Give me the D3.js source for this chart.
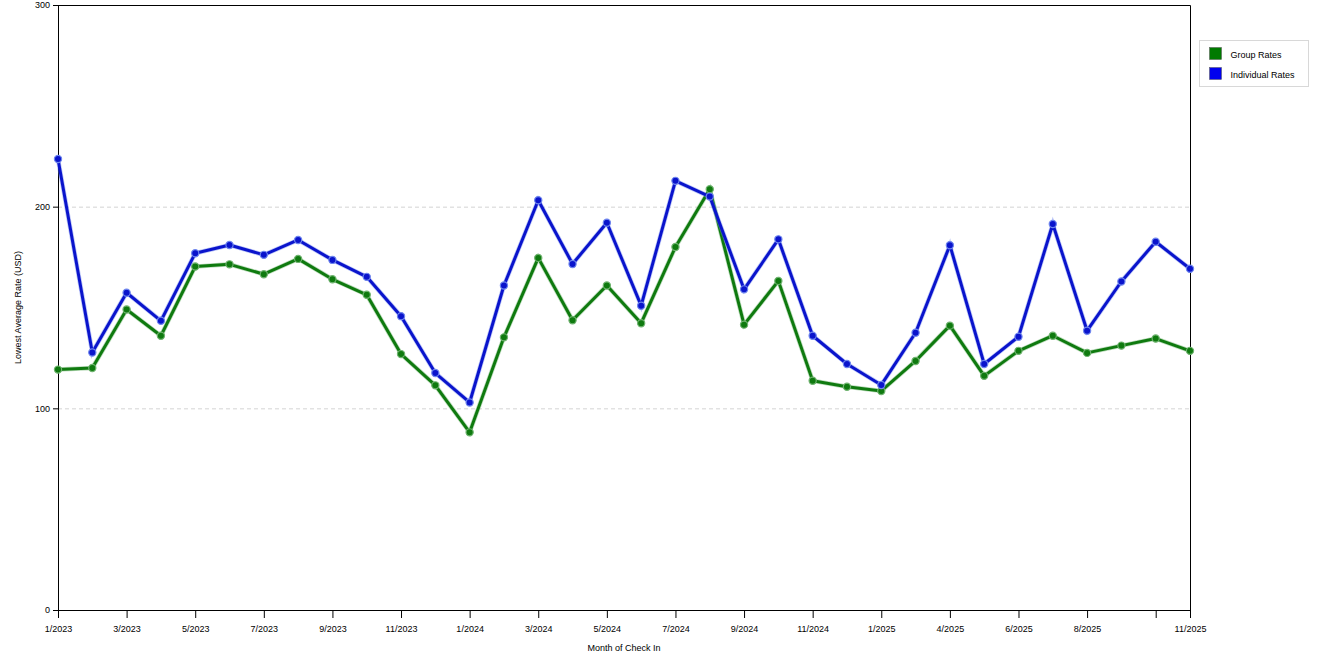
<!DOCTYPE html>
<html>
<head>
<meta charset="utf-8">
<script src="https://cdn.jsdelivr.net/npm/d3@7"></script>
<style>
  body { margin: 0; background: #fff; }
  svg { display: block; font-family: "Liberation Sans", Arial, sans-serif; }
  .axis path, .axis line { stroke: #000; }
  .axis text { font-size: 9px; fill: #000; }
</style>
</head>
<body>
<div id="chart"></div>
<script>
// data
var months = ["1/2023","2/2023","3/2023","4/2023","5/2023","6/2023","7/2023","8/2023","9/2023","10/2023","11/2023","12/2023",
              "1/2024","2/2024","3/2024","4/2024","5/2024","6/2024","7/2024","8/2024","9/2024","10/2024","11/2024","12/2024",
              "1/2025","2/2025","4/2025","5/2025","6/2025","7/2025","8/2025","9/2025","10/2025","11/2025"];
var groupRates = [119.2, 120.0, 149.0, 136.0, 170.3, 171.4, 166.5, 174.1, 164.0, 156.3, 126.9, 111.4,
                  88.1, 135.2, 174.6, 143.7, 160.9, 142.2, 180.0, 208.6, 141.5, 163.2, 113.7, 110.7,
                  108.6, 123.5, 141.0, 116.1, 128.5, 136.0, 127.5, 131.1, 134.6, 128.5];
var individualRates = [223.6, 127.7, 157.3, 143.4, 176.9, 181.0, 176.1, 183.5, 173.6, 165.2, 145.7, 117.5,
                       102.9, 160.9, 203.2, 171.6, 192.0, 150.9, 212.8, 205.0, 159.0, 183.8, 136.0, 122.0,
                       111.6, 137.5, 180.9, 122.0, 135.5, 191.4, 138.5, 162.9, 182.6, 169.2];
var tickMonths = ["1/2023","3/2023","5/2023","7/2023","9/2023","11/2023","1/2024","3/2024","5/2024","7/2024",
                  "9/2024","11/2024","1/2025","4/2025","6/2025","8/2025","10/2025","11/2025"];
var tickLabels = ["1/2023","3/2023","5/2023","7/2023","9/2023","11/2023","1/2024","3/2024","5/2024","7/2024",
                  "9/2024","11/2024","1/2025","4/2025","6/2025","8/2025","","11/2025"];
var yTicks = [0, 100, 200, 300];
var seriesNames = ["Group Rates", "Individual Rates"];

var w = 1320, h = 660;
var pLeft = 58, pRight = 1190, pTop = 5, pBottom = 610;
var lineColors = ["#0f7a0f", "#0a14cc"];
var swatchColors = ["#007a00", "#0000ee"];
var haloColors = ["#6fb36f", "#6f86ee"];

var svg = d3.select("#chart").append("svg")
    .attr("width", w)
    .attr("height", h);

var xScale = d3.scalePoint()
    .domain(months)
    .range([pLeft, pRight]);

var yScale = d3.scaleLinear()
    .domain([0, 300])
    .range([pBottom, pTop]);

// gridlines
svg.append("g")
  .selectAll("line")
  .data([100, 200])
  .join("line")
    .attr("x1", pLeft).attr("x2", pRight)
    .attr("y1", d => yScale(d) + 0.5).attr("y2", d => yScale(d) + 0.5)
    .attr("stroke", "#d4d4d4")
    .attr("stroke-dasharray", "4,3");

// frame (top + right)
svg.append("path")
    .attr("d", "M" + pLeft + "," + (pTop + 0.5) + "H" + (pRight + 0.5) + "V" + pBottom)
    .attr("fill", "none")
    .attr("stroke", "#000");

var yAxis = d3.axisLeft(yScale).tickValues(yTicks).tickSize(5).tickSizeOuter(0);
svg.append("g")
    .attr("class", "axis")
    .attr("transform", "translate(" + pLeft + ",0)")
    .call(yAxis);

var xAxis = d3.axisBottom(xScale)
    .tickValues(tickMonths)
    .tickSize(8)
    .tickSizeOuter(0)
    .tickFormat((d, i) => tickLabels[i]);
svg.append("g")
    .attr("class", "axis")
    .attr("transform", "translate(0," + pBottom + ")")
    .call(xAxis)
    .selectAll("text").attr("dy", "1.2em");

svg.append("text")
    .attr("x", (pLeft + pRight) / 2)
    .attr("y", 651)
    .attr("text-anchor", "middle")
    .attr("font-size", 9)
    .text("Month of Check In");

svg.append("text")
    .attr("transform", "translate(21," + ((pTop + pBottom) / 2) + ") rotate(-90)")
    .attr("text-anchor", "middle")
    .attr("font-size", 9)
    .text("Lowest Average Rate (USD)");

// series
var allSeries = [groupRates, individualRates];
allSeries.forEach(function(vals, s) {
  var line = d3.line()
      .x((d, i) => xScale(months[i]))
      .y(d => yScale(d));
  svg.append("path")
      .datum(vals)
      .attr("fill", "none")
      .attr("stroke", haloColors[s])
      .attr("stroke-opacity", 0.45)
      .attr("stroke-width", 4.5)
      .attr("d", line);
  svg.append("path")
      .datum(vals)
      .attr("fill", "none")
      .attr("stroke", lineColors[s])
      .attr("stroke-width", 3)
      .attr("stroke-linejoin", "round")
      .attr("d", line);
  svg.append("g")
    .selectAll("circle")
    .data(vals)
    .join("circle")
      .attr("cx", (d, i) => xScale(months[i]))
      .attr("cy", d => yScale(d))
      .attr("r", 3.6)
      .attr("fill", lineColors[s])
      .attr("stroke", haloColors[s])
      .attr("stroke-width", 1.2);
});

// legend
var lg = svg.append("g").attr("transform", "translate(1199.5,40.5)");
lg.append("rect")
    .attr("width", 109).attr("height", 46)
    .attr("fill", "#fff")
    .attr("stroke", "#d8d8d8");
seriesNames.forEach(function(name, i) {
  lg.append("rect")
      .attr("x", 10).attr("y", 7 + i * 20)
      .attr("width", 12).attr("height", 12)
      .attr("fill", swatchColors[i])
      .attr("stroke", "#555")
      .attr("stroke-width", 0.5);
  lg.append("text")
      .attr("x", 31).attr("y", 17 + i * 20)
      .attr("font-size", 9)
      .text(name);
});
</script>
</body>
</html>
